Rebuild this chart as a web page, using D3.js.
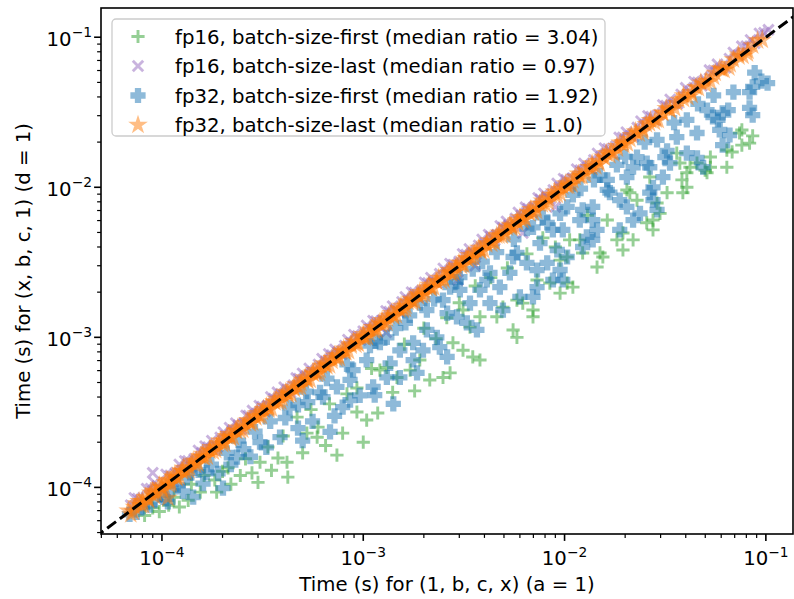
<!DOCTYPE html>
<html>
<head>
  <meta charset="UTF-8">
  <title>Layout timing</title>
  <style>
    body { margin: 0; background: #fff; }
    svg text { font-family: "DejaVu Sans", sans-serif; fill: #000; }
  </style>
</head>
<body>
  <div class="graph"></div>
  <script src="https://d3js.org/d3.v7.min.js"></script>
  <script>
    /// data: [time (s) for (1, b, c, x), time (s) for (x, b, c, 1)]

    var fp16First = [
      [8.2e-5,6.5e-5],[9.0e-5,7.3e-5],[9.7e-5,6.9e-5],[1.08e-4,7.6e-5],[1.15e-4,8.6e-5],[1.22e-4,7.4e-5],
      [1.35e-4,8.2e-5],[1.4e-4,1.05e-4],[1.55e-4,9.3e-5],[1.62e-4,1.2e-4],[1.83e-4,1.12e-4],[1.87e-4,9.3e-5],
      [2.0e-4,1.28e-4],[2.13e-4,1.35e-4],[2.2e-4,1.05e-4],[2.45e-4,1.2e-4],[2.6e-4,1.55e-4],[2.8e-4,1.25e-4],
      [3.0e-4,1.08e-4],[3.07e-4,1.47e-4],[3.36e-4,1.86e-4],[3.5e-4,1.3e-4],[3.77e-4,1.57e-4],[4.0e-4,2.2e-4],
      [4.18e-4,1.47e-4],[4.22e-4,1.17e-4],[4.69e-4,2.94e-4],[5.0e-4,1.7e-4],[5.25e-4,2.3e-4],[5.5e-4,3.3e-4],
      [5.9e-4,2.16e-4],[5.96e-4,2.52e-4],[6.5e-4,1.9e-4],[6.8e-4,3.6e-4],[7.4e-4,1.64e-4],[7.9e-4,2.3e-4],
      [8.3e-4,4.2e-4],[9.3e-4,3.18e-4],[9.3e-4,4.6e-4],[1.0e-3,2.0e-4],[1.04e-3,2.81e-4],[1.1e-3,6.2e-4],
      [1.18e-3,3.13e-4],[1.21e-3,6.05e-4],[1.31e-3,6.3e-4],[1.4e-3,4.3e-4],[1.47e-3,5.4e-4],[1.6e-3,9.0e-4],
      [1.71e-3,6.05e-4],[1.8e-3,4.4e-4],[1.91e-3,7.06e-4],[2.0e-3,1.15e-3],[2.14e-3,5.2e-4],[2.3e-3,9.8e-4],
      [2.49e-3,5.4e-4],[2.6e-3,1.35e-3],[2.7e-3,5.8e-4],[2.79e-3,9.2e-4],[3.0e-3,1.7e-3],[3.13e-3,8.2e-4],
      [3.13e-3,1.52e-3],[3.39e-3,1.17e-3],[3.5e-3,7.4e-4],[3.6e-3,2.2e-3],[3.8e-3,7.06e-4],[3.8e-3,1.37e-3],
      [4.3e-3,2.5e-3],[4.61e-3,1.37e-3],[4.94e-3,1.59e-3],[5.2e-3,2.9e-3],[5.55e-3,1.12e-3],[5.8e-3,1.77e-3],
      [5.8e-3,1.0e-3],[6.2e-3,1.69e-3],[6.5e-3,3.6e-3],[6.97e-3,1.52e-3],[6.97e-3,1.37e-3],[7.3e-3,2.41e-3],
      [7.8e-3,4.6e-3],[8.45e-3,2.3e-3],[9.0e-3,4.0e-3],[9.5e-3,3.27e-3],[9.5e-3,1.97e-3],[1.03e-2,3.43e-3],
      [1.03e-2,2.3e-3],[1.06e-2,4.46e-3],[1.1e-2,2.16e-3],[1.19e-2,4.46e-3],[1.23e-2,3.65e-3],[1.3e-2,6.5e-3],
      [1.45e-2,2.94e-3],[1.5e-2,3.65e-3],[1.55e-2,3.43e-3],[1.63e-2,6.05e-3],[1.82e-2,4.46e-3],[1.95e-2,4.96e-3],
      [1.95e-2,3.82e-3],[2.04e-2,9.6e-3],[2.11e-2,9.2e-3],[2.19e-2,4.46e-3],[2.29e-2,8.2e-3],[2.56e-2,5.8e-3],
      [2.65e-2,1.17e-2],[2.75e-2,6.05e-3],[2.75e-2,5.2e-3],[2.88e-2,7.85e-3],[2.98e-2,6.7e-3],[3.23e-2,9.2e-3],
      [3.61e-2,1.69e-2],[3.74e-2,1.45e-2],[3.83e-2,1.12e-2],[3.87e-2,9.2e-3],[4.05e-2,1.25e-2],[4.05e-2,1.0e-2],
      [4.2e-2,1.36e-2],[4.55e-2,1.45e-2],[4.99e-2,1.3e-2],[5.1e-2,1.25e-2],[5.3e-2,1.59e-2],[5.3e-2,1.36e-2],
      [6.4e-2,1.77e-2],[6.4e-2,1.36e-2],[6.8e-2,1.72e-2],[7.4e-2,2.3e-2],[7.6e-2,2.41e-2],[7.6e-2,1.91e-2],
      [8.3e-2,1.97e-2],[8.6e-2,2.2e-2]
    ];

    var fp16Last = [
      [7.0e-5,7.6e-5],[7.6e-5,8.4e-5],[8.1e-5,7.9e-5],[8.8e-5,9.8e-5],[9.0e-5,1.25e-4],[9.5e-5,1.02e-4],
      [1.02e-4,9.6e-5],[1.1e-4,1.2e-4],[1.17e-4,1.25e-4],[1.26e-4,1.3e-4],[1.35e-4,1.5e-4],[1.45e-4,1.55e-4],
      [1.58e-4,1.7e-4],[1.7e-4,1.85e-4],[1.82e-4,1.78e-4],[1.95e-4,2.15e-4],[2.08e-4,2.2e-4],[2.25e-4,2.4e-4],
      [2.4e-4,2.6e-4],[2.55e-4,2.65e-4],[2.7e-4,3.0e-4],[2.95e-4,3.1e-4],[3.15e-4,3.45e-4],[3.35e-4,3.5e-4],
      [3.6e-4,3.9e-4],[3.9e-4,4.2e-4],[4.2e-4,4.5e-4],[4.5e-4,4.8e-4],[4.8e-4,5.3e-4],[5.2e-4,5.5e-4],
      [5.6e-4,5.9e-4],[6.0e-4,6.6e-4],[6.5e-4,6.9e-4],[7.0e-4,7.6e-4],[7.5e-4,8.0e-4],[8.1e-4,8.8e-4],
      [8.7e-4,9.2e-4],[9.4e-4,1.02e-3],[1.0e-3,1.1e-3],[1.08e-3,1.14e-3],[1.16e-3,1.28e-3],[1.25e-3,1.3e-3],
      [1.3e-3,1.08e-3],[1.35e-3,1.48e-3],[1.45e-3,1.52e-3],[1.56e-3,1.72e-3],[1.68e-3,1.76e-3],[1.8e-3,1.98e-3],
      [1.95e-3,2.05e-3],[2.1e-3,2.3e-3],[2.25e-3,2.35e-3],[2.4e-3,2.65e-3],[2.6e-3,2.7e-3],[2.8e-3,3.05e-3],
      [2.95e-3,2.41e-3],[3.0e-3,3.2e-3],[3.25e-3,3.55e-3],[3.5e-3,3.65e-3],[3.6e-3,3.0e-3],[3.75e-3,4.1e-3],
      [4.0e-3,4.2e-3],[4.3e-3,4.7e-3],[4.6e-3,4.8e-3],[4.95e-3,5.4e-3],[5.3e-3,5.6e-3],[5.7e-3,6.2e-3],
      [6.2e-3,4.96e-3],[6.1e-3,6.5e-3],[6.6e-3,7.2e-3],[7.1e-3,7.4e-3],[7.6e-3,8.3e-3],[8.2e-3,8.6e-3],
      [8.8e-3,9.6e-3],[9.0e-3,7.4e-3],[9.5e-3,1.0e-2],[1.02e-2,1.12e-2],[1.1e-2,1.15e-2],[1.2e-2,1.3e-2],
      [1.3e-2,1.36e-2],[1.4e-2,1.52e-2],[1.52e-2,1.6e-2],[1.65e-2,1.8e-2],[1.8e-2,1.88e-2],[1.95e-2,2.15e-2],
      [2.12e-2,2.2e-2],[2.3e-2,2.5e-2],[2.5e-2,2.6e-2],[2.7e-2,2.95e-2],[2.95e-2,3.05e-2],[3.2e-2,3.5e-2],
      [3.5e-2,3.6e-2],[3.8e-2,4.15e-2],[4.2e-2,4.35e-2],[4.6e-2,5.0e-2],[5.0e-2,5.2e-2],[5.5e-2,6.0e-2],
      [6.0e-2,6.2e-2],[6.6e-2,7.2e-2],[7.3e-2,7.6e-2],[8.0e-2,8.7e-2],[8.8e-2,9.1e-2],[9.8e-2,1.07e-1],
      [1.03e-1,1.12e-1],
      [7.3e-5,8.5e-5],[8.4e-5,9.8e-5],[9.2e-5,1.07e-4],[1.05e-4,1.22e-4],[1.14e-4,1.1e-4],[1.22e-4,1.42e-4],
      [1.3e-4,1.5e-4],[1.4e-4,1.38e-4],[1.52e-4,1.76e-4],[1.64e-4,1.88e-4],[1.77e-4,2.05e-4],[1.88e-4,1.85e-4],
      [2.02e-4,2.33e-4],[2.17e-4,2.5e-4],[2.33e-4,2.68e-4],[2.48e-4,2.45e-4],[2.62e-4,3.02e-4],[2.82e-4,3.25e-4],
      [3.05e-4,3.5e-4],[3.25e-4,3.2e-4],[3.48e-4,4.0e-4],[3.75e-4,4.3e-4],[4.05e-4,4.65e-4],[4.35e-4,4.3e-4],
      [4.65e-4,5.35e-4],[5.0e-4,5.75e-4],[5.4e-4,6.2e-4],[5.8e-4,5.75e-4],[6.25e-4,7.2e-4],[6.75e-4,7.75e-4],
      [7.25e-4,8.3e-4],[7.8e-4,7.7e-4],[8.4e-4,9.65e-4],[9.0e-4,1.04e-3],[9.7e-4,9.6e-4],[1.04e-3,1.2e-3],
      [1.12e-3,1.29e-3],[1.2e-3,1.19e-3],[1.3e-3,1.5e-3],[1.4e-3,1.61e-3],[1.5e-3,1.48e-3],[1.62e-3,1.86e-3],
      [1.74e-3,2.0e-3],[1.87e-3,1.85e-3],[2.02e-3,2.32e-3],[2.17e-3,2.5e-3],[2.33e-3,2.3e-3],[2.5e-3,2.88e-3],
      [2.7e-3,3.1e-3],[2.9e-3,2.87e-3],[3.12e-3,3.59e-3],[3.37e-3,3.88e-3],[3.62e-3,3.58e-3],[3.9e-3,4.49e-3],
      [4.2e-3,4.83e-3],[4.5e-3,4.45e-3],[4.8e-3,5.52e-3],[5.15e-3,5.92e-3],[5.5e-3,5.45e-3],[5.9e-3,6.8e-3],
      [6.4e-3,7.35e-3],[6.9e-3,6.8e-3],[7.4e-3,8.5e-3],[7.9e-3,9.1e-3],[8.5e-3,8.4e-3],[9.2e-3,1.06e-2],
      [9.9e-3,1.14e-2],[1.06e-2,1.05e-2],[1.15e-2,1.32e-2],[1.25e-2,1.44e-2],[1.35e-2,1.34e-2],[1.46e-2,1.68e-2],
      [1.58e-2,1.82e-2],[1.72e-2,1.7e-2],[1.87e-2,2.15e-2],[2.03e-2,2.33e-2],[2.2e-2,2.18e-2],[2.4e-2,2.76e-2],
      [2.6e-2,2.99e-2],[2.82e-2,2.8e-2],[3.08e-2,3.54e-2],[3.35e-2,3.85e-2],[3.65e-2,3.62e-2],[4.0e-2,4.6e-2],
      [4.4e-2,5.06e-2],[4.8e-2,4.75e-2],[5.25e-2,6.04e-2],[5.75e-2,6.6e-2],[6.3e-2,6.25e-2],[6.9e-2,7.9e-2],
      [7.6e-2,8.7e-2],[8.4e-2,9.6e-2],[9.3e-2,1.06e-1]
    ];

    var fp32First = [
      [6.9e-5,6.6e-5],[7.5e-5,6.8e-5],[8.0e-5,7.4e-5],[8.7e-5,7.6e-5],[9.2e-5,8.3e-5],[9.8e-5,8.9e-5],
      [1.05e-4,8.4e-5],[1.07e-4,8.0e-5],[1.12e-4,9.8e-5],[1.2e-4,1.03e-4],[1.27e-4,9.4e-5],[1.33e-4,1.16e-4],
      [1.38e-4,1.25e-4],[1.43e-4,8.6e-5],[1.52e-4,1.3e-4],[1.6e-4,1.06e-4],[1.67e-4,1.26e-4],[1.76e-4,1.42e-4],
      [1.9e-4,1.24e-4],[2.01e-4,9.9e-5],[2.1e-4,1.7e-4],[2.2e-4,1.42e-4],[2.36e-4,1.59e-4],[2.4e-4,2.05e-4],
      [2.55e-4,1.8e-4],[2.75e-4,1.6e-4],[2.9e-4,2.35e-4],[3.07e-4,2.0e-4],[3.3e-4,1.85e-4],[3.45e-4,2.75e-4],
      [3.86e-4,2.16e-4],[4.1e-4,2.9e-4],[4.3e-4,3.4e-4],[4.74e-4,2.48e-4],[4.74e-4,3.54e-4],[5.0e-4,2.05e-4],
      [5.2e-4,4.35e-4],[5.3e-4,3.7e-4],[5.6e-4,2.75e-4],[6.1e-4,4.3e-4],[6.31e-4,4.0e-4],[6.6e-4,5.3e-4],
      [6.84e-4,2.34e-4],[7.2e-4,3.0e-4],[7.4e-4,4.67e-4],[7.9e-4,3.43e-4],[8.3e-4,6.6e-4],[8.6e-4,5.2e-4],
      [8.6e-4,3.82e-4],[8.9e-4,6.05e-4],[9.6e-4,4.1e-4],[1.04e-3,7.06e-4],[1.08e-3,8.8e-4],[1.12e-3,4.67e-4],
      [1.14e-3,4.12e-4],[1.15e-3,9.4e-4],[1.21e-3,9.2e-4],[1.31e-3,1.0e-3],[1.31e-3,5.4e-4],[1.36e-3,6.7e-4],
      [1.41e-3,3.6e-4],[1.45e-3,1.15e-3],[1.52e-3,8.2e-4],[1.52e-3,5.4e-4],[1.62e-3,1.25e-3],[1.7e-3,1.4e-3],
      [1.77e-3,9.2e-4],[1.77e-3,7.06e-4],[1.85e-3,5.8e-4],[1.91e-3,1.69e-3],[1.98e-3,8.2e-4],[2.07e-3,1.52e-3],
      [2.07e-3,1.12e-3],[2.25e-3,1.8e-3],[2.32e-3,1.0e-3],[2.4e-3,8.6e-4],[2.49e-3,1.77e-3],[2.61e-3,1.45e-3],
      [2.61e-3,7.4e-4],[2.7e-3,2.16e-3],[2.9e-3,2.35e-3],[2.92e-3,1.37e-3],[3.02e-3,2.07e-3],[3.02e-3,2.52e-3],
      [3.27e-3,1.25e-3],[3.39e-3,1.69e-3],[3.5e-3,2.85e-3],[3.67e-3,1.12e-3],[3.8e-3,2.07e-3],[3.9e-3,3.2e-3],
      [4.11e-3,2.41e-3],[4.26e-3,2.69e-3],[4.26e-3,1.69e-3],[4.6e-3,3.7e-3],[4.77e-3,2.16e-3],[4.94e-3,1.52e-3],
      [5.35e-3,2.69e-3],[5.55e-3,3.43e-3],[5.6e-3,4.5e-3],[5.8e-3,3.65e-3],[6.0e-3,1.86e-3],[6.5e-3,3.13e-3],
      [6.5e-3,5.3e-3],[6.97e-3,5.4e-3],[6.97e-3,1.86e-3],[7.3e-3,2.81e-3],[7.3e-3,2.16e-3],[7.55e-3,4.25e-3],
      [7.8e-3,6.3e-3],[8.2e-3,5.8e-3],[8.2e-3,3.13e-3],[8.75e-3,5.2e-3],[8.75e-3,2.41e-3],[9.2e-3,3.82e-3],
      [9.5e-3,6.7e-3],[9.5e-3,2.81e-3],[9.8e-3,5.2e-3],[9.8e-3,2.41e-3],[1.03e-2,7.4e-3],[1.03e-2,3.43e-3],
      [1.1e-2,8.9e-3],[1.19e-2,6.05e-3],[1.2e-2,9.8e-3],[1.23e-2,7.06e-3],[1.23e-2,4.0e-3],[1.29e-2,4.67e-3],
      [1.38e-2,7.4e-3],[1.38e-2,6.05e-3],[1.38e-2,4.46e-3],[1.4e-2,1.12e-2],[1.45e-2,5.2e-3],[1.5e-2,1.2e-2],
      [1.63e-2,1.12e-2],[1.63e-2,9.6e-3],[1.68e-2,9.2e-3],[1.82e-2,1.41e-2],[1.88e-2,8.2e-3],[1.88e-2,5.2e-3],
      [2.0e-2,1.6e-2],[2.04e-2,1.17e-2],[2.04e-2,7.4e-3],[2.19e-2,1.36e-2],[2.19e-2,6.05e-3],[2.29e-2,1.59e-2],
      [2.37e-2,6.7e-3],[2.5e-2,2.0e-2],[2.56e-2,1.45e-2],[2.65e-2,9.2e-3],[2.65e-2,1.36e-2],[2.75e-2,8.2e-3],
      [2.75e-2,1.0e-2],[2.88e-2,2.07e-2],[2.88e-2,7.06e-3],[3.08e-2,1.17e-2],[3.15e-2,1.59e-2],[3.23e-2,1.75e-2],
      [3.34e-2,1.45e-2],[3.5e-2,2.7e-2],[3.61e-2,2.16e-2],[4.05e-2,2.81e-2],[4.05e-2,1.69e-2],[4.55e-2,2.3e-2],
      [4.55e-2,1.57e-2],[4.6e-2,3.6e-2],[4.88e-2,1.36e-2],[5.1e-2,3.27e-2],[5.46e-2,2.94e-2],[5.5e-2,4.1e-2],
      [5.78e-2,2.81e-2],[5.9e-2,2.41e-2],[6.1e-2,3.13e-2],[6.1e-2,1.91e-2],[6.5e-2,3.27e-2],[6.6e-2,2.23e-2],
      [6.9e-2,4.3e-2],[8.3e-2,4.3e-2],[8.3e-2,3.38e-2],[8.6e-2,4.67e-2],[8.6e-2,3.03e-2],[8.8e-2,5.8e-2],
      [9.5e-2,5.1e-2],[1.02e-1,4.95e-2]
    ];

    var fp32Last = [
      [6.8e-5,7.0e-5],[7.2e-5,6.9e-5],[7.5e-5,7.8e-5],[7.9e-5,7.6e-5],[8.3e-5,8.6e-5],[8.6e-5,8.2e-5],
      [9.0e-5,9.5e-5],[9.4e-5,9.1e-5],[9.9e-5,1.0e-4],[1.04e-4,1.08e-4],[1.07e-4,8.5e-5],[1.09e-4,1.04e-4],
      [1.13e-4,1.18e-4],[1.19e-4,1.15e-4],[1.25e-4,1.29e-4],[1.32e-4,1.27e-4],[1.4e-4,1.46e-4],[1.47e-4,1.41e-4],
      [1.55e-4,1.61e-4],[1.63e-4,1.58e-4],[1.72e-4,1.78e-4],[1.8e-4,1.73e-4],[1.9e-4,1.97e-4],[2.0e-4,1.94e-4],
      [2.1e-4,2.19e-4],[2.2e-4,2.12e-4],[2.32e-4,2.4e-4],[2.45e-4,2.38e-4],[2.6e-4,2.68e-4],[2.75e-4,2.66e-4],
      [2.9e-4,3.0e-4],[3.05e-4,2.96e-4],[3.2e-4,3.32e-4],[3.4e-4,3.3e-4],[3.6e-4,3.74e-4],[3.8e-4,3.68e-4],
      [4.0e-4,4.15e-4],[4.25e-4,4.12e-4],[4.5e-4,4.64e-4],[4.75e-4,4.6e-4],[5.0e-4,5.2e-4],[5.3e-4,5.15e-4],
      [5.6e-4,5.82e-4],[5.9e-4,5.7e-4],[6.2e-4,6.45e-4],[6.6e-4,6.4e-4],[7.0e-4,7.25e-4],[7.4e-4,7.2e-4],
      [7.8e-4,8.1e-4],[8.2e-4,7.95e-4],[8.7e-4,9.0e-4],[9.2e-4,8.9e-4],[9.7e-4,1.01e-3],[1.02e-3,9.9e-4],
      [1.08e-3,1.12e-3],[1.14e-3,1.1e-3],[1.2e-3,1.25e-3],[1.27e-3,1.23e-3],[1.34e-3,1.39e-3],[1.42e-3,1.37e-3],
      [1.5e-3,1.56e-3],[1.58e-3,1.53e-3],[1.67e-3,1.73e-3],[1.76e-3,1.7e-3],[1.86e-3,1.93e-3],[1.96e-3,1.9e-3],
      [2.07e-3,2.14e-3],[2.18e-3,2.11e-3],[2.3e-3,2.38e-3],[2.45e-3,2.37e-3],[2.6e-3,2.69e-3],[2.75e-3,2.66e-3],
      [2.9e-3,3.0e-3],[3.08e-3,2.98e-3],[3.25e-3,3.37e-3],[3.45e-3,3.34e-3],[3.65e-3,3.78e-3],[3.85e-3,3.73e-3],
      [4.1e-3,4.24e-3],[4.35e-3,4.2e-3],[4.6e-3,4.76e-3],[4.9e-3,4.74e-3],[5.2e-3,5.38e-3],[5.5e-3,5.32e-3],
      [5.8e-3,6.0e-3],[6.2e-3,6.0e-3],[6.6e-3,6.83e-3],[7.0e-3,6.77e-3],[7.5e-3,7.76e-3],[8.0e-3,7.74e-3],
      [8.6e-3,8.9e-3],[9.2e-3,8.9e-3],[9.8e-3,1.01e-2],[1.05e-2,1.02e-2],[1.13e-2,1.17e-2],[1.22e-2,1.18e-2],
      [1.32e-2,1.36e-2],[1.43e-2,1.38e-2],[1.55e-2,1.6e-2],[1.68e-2,1.63e-2],[1.82e-2,1.88e-2],[1.97e-2,1.91e-2],
      [2.15e-2,2.22e-2],[2.35e-2,2.28e-2],[2.55e-2,2.63e-2],[2.8e-2,2.72e-2],[3.05e-2,3.15e-2],[3.35e-2,3.25e-2],
      [3.7e-2,3.82e-2],[4.1e-2,3.98e-2],[4.5e-2,4.65e-2],[5.0e-2,4.86e-2],[5.6e-2,5.78e-2],[6.2e-2,6.03e-2],
      [6.9e-2,7.1e-2],[7.7e-2,7.5e-2],[8.6e-2,8.8e-2],[9.6e-2,9.6e-2],
      [7.0e-5,6.6e-5],[7.7e-5,8.1e-5],[8.1e-5,7.6e-5],[8.8e-5,9.2e-5],[9.2e-5,8.7e-5],[9.7e-5,1.03e-4],
      [1.01e-4,9.5e-5],[1.06e-4,1.12e-4],[1.11e-4,1.06e-4],[1.16e-4,1.22e-4],[1.22e-4,1.17e-4],[1.28e-4,1.35e-4],
      [1.36e-4,1.3e-4],[1.43e-4,1.5e-4],[1.51e-4,1.44e-4],[1.59e-4,1.67e-4],[1.68e-4,1.6e-4],[1.76e-4,1.85e-4],
      [1.85e-4,1.77e-4],[1.95e-4,2.05e-4],[2.05e-4,1.96e-4],[2.15e-4,2.26e-4],[2.26e-4,2.16e-4],[2.38e-4,2.5e-4],
      [2.52e-4,2.42e-4],[2.67e-4,2.8e-4],[2.82e-4,2.7e-4],[2.97e-4,3.12e-4],[3.12e-4,2.98e-4],[3.3e-4,3.46e-4],
      [3.5e-4,3.35e-4],[3.7e-4,3.88e-4],[3.9e-4,3.73e-4],[4.12e-4,4.32e-4],[4.37e-4,4.18e-4],[4.62e-4,4.85e-4],
      [4.88e-4,4.67e-4],[5.15e-4,5.4e-4],[5.45e-4,5.2e-4],[5.75e-4,6.03e-4],[6.05e-4,5.8e-4],[6.4e-4,6.7e-4],
      [6.8e-4,6.5e-4],[7.2e-4,7.55e-4],[7.6e-4,7.28e-4],[8.0e-4,8.4e-4],[8.45e-4,8.1e-4],[8.95e-4,9.4e-4],
      [9.45e-4,9.05e-4],[1.0e-3,1.05e-3],[1.05e-3,1.0e-3],[1.11e-3,1.17e-3],[1.17e-3,1.12e-3],[1.24e-3,1.3e-3],
      [1.31e-3,1.25e-3],[1.38e-3,1.45e-3],[1.46e-3,1.4e-3],[1.54e-3,1.62e-3],[1.62e-3,1.55e-3],[1.72e-3,1.8e-3],
      [1.81e-3,1.73e-3],[1.91e-3,2.0e-3],[2.02e-3,1.93e-3],[2.12e-3,2.23e-3],[2.24e-3,2.14e-3],[2.37e-3,2.49e-3],
      [2.52e-3,2.41e-3],[2.67e-3,2.8e-3],[2.82e-3,2.7e-3],[2.99e-3,3.14e-3],[3.16e-3,3.03e-3],[3.35e-3,3.52e-3],
      [3.55e-3,3.4e-3],[3.75e-3,3.94e-3],[3.97e-3,3.8e-3],[4.22e-3,4.43e-3],[4.48e-3,4.29e-3],[4.75e-3,4.99e-3],
      [5.05e-3,4.84e-3],[5.35e-3,5.62e-3],[5.65e-3,5.41e-3],[6.0e-3,6.3e-3],[6.4e-3,6.13e-3],[6.8e-3,7.14e-3],
      [7.25e-3,6.95e-3],[7.75e-3,8.14e-3],[8.3e-3,7.95e-3],[8.9e-3,9.35e-3],[9.5e-3,9.1e-3],[1.01e-2,1.06e-2],
      [1.09e-2,1.04e-2],[1.17e-2,1.23e-2],[1.27e-2,1.22e-2],[1.37e-2,1.44e-2],[1.49e-2,1.43e-2],[1.61e-2,1.69e-2],
      [1.75e-2,1.68e-2],[1.89e-2,1.98e-2],[2.05e-2,1.96e-2],[2.25e-2,2.36e-2],[2.45e-2,2.35e-2],[2.67e-2,2.8e-2],
      [2.92e-2,2.8e-2],[3.2e-2,3.36e-2],[3.52e-2,3.37e-2],[3.9e-2,4.1e-2],[4.3e-2,4.12e-2],[4.75e-2,4.98e-2],
      [5.3e-2,5.08e-2],[5.9e-2,6.2e-2],[6.55e-2,6.28e-2],[7.3e-2,7.66e-2],[8.1e-2,7.78e-2],[9.1e-2,9.5e-2],
      [7.3e-5,7.4e-5],[8.0e-5,8.1e-5],[8.5e-5,8.4e-5],[9.3e-5,9.4e-5],[1.0e-4,9.9e-5],[1.1e-4,1.11e-4],
      [1.18e-4,1.17e-4],[1.27e-4,1.28e-4],[1.37e-4,1.36e-4],[1.48e-4,1.5e-4],[1.6e-4,1.59e-4],[1.73e-4,1.75e-4],
      [1.87e-4,1.86e-4],[2.03e-4,2.05e-4],[2.18e-4,2.17e-4],[2.35e-4,2.37e-4],[2.55e-4,2.54e-4],[2.72e-4,2.75e-4],
      [2.93e-4,2.92e-4],[3.15e-4,3.18e-4],[3.4e-4,3.38e-4],[3.65e-4,3.68e-4],[3.95e-4,3.93e-4],[4.2e-4,4.25e-4],
      [4.55e-4,4.52e-4],[4.9e-4,4.95e-4],[5.25e-4,5.22e-4],[5.65e-4,5.7e-4],[6.1e-4,6.07e-4],[6.5e-4,6.57e-4],
      [7.0e-4,6.96e-4],[7.5e-4,7.58e-4],[8.1e-4,8.05e-4],[8.7e-4,8.8e-4],[9.3e-4,9.25e-4],[1.0e-3,1.01e-3],
      [1.07e-3,1.06e-3],[1.15e-3,1.16e-3],[1.23e-3,1.22e-3],[1.32e-3,1.33e-3],[1.41e-3,1.4e-3],[1.52e-3,1.53e-3],
      [1.63e-3,1.62e-3],[1.75e-3,1.77e-3],[1.88e-3,1.87e-3],[2.02e-3,2.04e-3],[2.16e-3,2.15e-3],[2.32e-3,2.34e-3],
      [2.5e-3,2.48e-3],[2.68e-3,2.71e-3],[2.88e-3,2.86e-3],[3.09e-3,3.12e-3],[3.32e-3,3.3e-3],[3.56e-3,3.6e-3],
      [3.82e-3,3.8e-3],[4.1e-3,4.14e-3],[4.4e-3,4.37e-3],[4.72e-3,4.77e-3],[5.07e-3,5.04e-3],[5.44e-3,5.5e-3],
      [5.84e-3,5.8e-3],[6.27e-3,6.33e-3],[6.73e-3,6.69e-3],[7.22e-3,7.3e-3],[7.75e-3,7.7e-3],[8.32e-3,8.4e-3],
      [8.93e-3,8.88e-3],[9.6e-3,9.7e-3],[1.03e-2,1.02e-2],[1.1e-2,1.11e-2],[1.19e-2,1.18e-2],[1.27e-2,1.29e-2],
      [1.37e-2,1.36e-2],[1.47e-2,1.49e-2],[1.58e-2,1.57e-2],[1.7e-2,1.72e-2],[1.83e-2,1.81e-2],[1.96e-2,1.99e-2],
      [2.11e-2,2.09e-2],[2.27e-2,2.3e-2],[2.45e-2,2.43e-2],[2.64e-2,2.67e-2],[2.85e-2,2.82e-2],[3.08e-2,3.12e-2],
      [3.33e-2,3.3e-2],[3.6e-2,3.65e-2],[3.9e-2,3.87e-2],[4.25e-2,4.3e-2],[4.62e-2,4.58e-2],[5.05e-2,5.12e-2],
      [5.5e-2,5.45e-2],[6.05e-2,6.12e-2],[6.65e-2,6.6e-2],[7.35e-2,7.43e-2],[8.15e-2,8.1e-2]
    ];

    var seriesLabels = [
      "fp16, batch-size-first (median ratio = 3.04)",
      "fp16, batch-size-last (median ratio = 0.97)",
      "fp32, batch-size-first (median ratio = 1.92)",
      "fp32, batch-size-last (median ratio = 1.0)"
    ];
    var majorTicks = [1e-4, 1e-3, 1e-2, 1e-1];
    var tickExponents = ["\u22124", "\u22123", "\u22122", "\u22121"];
    var xLabel = "Time (s) for (1, b, c, x) (a = 1)";
    var yLabel = "Time (s) for (x, b, c, 1) (d = 1)";

    /// params

    var width = 794, height = 599;
    var plot = {left: 101, right: 793, top: 8, bottom: 534};
    var fontSize = 19.7, supSize = 13.8;

    var series = [
      {data: fp16First, color: "#2ca02c", marker: "plus"},
      {data: fp16Last,  color: "#9467bd", marker: "x"},
      {data: fp32First, color: "#1f77b4", marker: "pfill"},
      {data: fp32Last,  color: "#ff7f0e", marker: "star"}
    ];

    var markerPath = {
      plus: "M-6.6,0H6.6M0,-6.6V6.6",
      x: "M-5.2,-5.2L5.2,5.2M-5.2,5.2L5.2,-5.2",
      pfill: d3.symbol(d3.symbolCross, 100)(),
      star: d3.symbol(d3.symbolStar, 62)()
    };

    function styleMarker(sel, s) {
      var filled = (s.marker == "pfill" || s.marker == "star");
      sel.attr("d", markerPath[s.marker])
        .attr("fill", filled ? s.color : "none")
        .attr("stroke", s.color)
        .attr("stroke-width", filled ? 1.8 : 2.9)
        .attr("opacity", 0.5);
    }

    /// main

    var svg = d3.select(".graph").append("svg")
      .attr("width", width)
      .attr("height", height);
    svg.append("rect").attr("width", width).attr("height", height).attr("fill", "#fff");

    var x = d3.scaleLog().domain([4.98e-5, 0.1364]).range([plot.left, plot.right]);
    var y = d3.scaleLog().domain([4.89e-5, 0.1566]).range([plot.bottom, plot.top]);

    svg.append("clipPath").attr("id", "clip")
      .append("rect")
        .attr("x", plot.left).attr("y", plot.top)
        .attr("width", plot.right - plot.left)
        .attr("height", plot.bottom - plot.top);

    var marks = svg.append("g").attr("clip-path", "url(#clip)");

    series.forEach(function(s) {
      marks.append("g")
        .selectAll("path")
        .data(s.data)
        .enter().append("path")
          .attr("transform", function(d) { return "translate(" + x(d[0]) + "," + y(d[1]) + ")"; })
          .call(styleMarker, s);
    });

    // y = x reference line
    var diag = [4e-5, 0.2];
    marks.append("path")
      .attr("d", d3.line()(diag.map(function(v) { return [x(v), y(v)]; })))
      .attr("fill", "none")
      .attr("stroke", "#000")
      .attr("stroke-width", 3)
      .attr("stroke-dasharray", "11,4.8");

    // frame
    svg.append("rect")
      .attr("x", plot.left).attr("y", plot.top)
      .attr("width", plot.right - plot.left)
      .attr("height", plot.bottom - plot.top)
      .attr("fill", "none")
      .attr("stroke", "#000")
      .attr("stroke-width", 1.6);

    // ticks
    function isMajor(v) { return majorTicks.some(function(m) { return Math.abs(v / m - 1) < 1e-6; }); }

    var axes = svg.append("g").attr("stroke", "#000");
    x.ticks().forEach(function(v) {
      var major = isMajor(v);
      axes.append("line")
        .attr("x1", x(v)).attr("x2", x(v))
        .attr("y1", plot.bottom).attr("y2", plot.bottom + (major ? 6.9 : 3.9))
        .attr("stroke-width", major ? 1.6 : 1.2);
    });
    y.ticks().forEach(function(v) {
      var major = isMajor(v);
      axes.append("line")
        .attr("y1", y(v)).attr("y2", y(v))
        .attr("x1", plot.left).attr("x2", plot.left - (major ? 6.9 : 3.9))
        .attr("stroke-width", major ? 1.6 : 1.2);
    });

    function powerLabel(g, i) {
      g.append("tspan").text("10");
      g.append("tspan").attr("dy", -8.5).attr("font-size", supSize).text(tickExponents[i]);
    }

    majorTicks.forEach(function(v, i) {
      svg.append("text")
        .attr("x", x(v)).attr("y", plot.bottom + 31)
        .attr("text-anchor", "middle")
        .attr("font-size", fontSize)
        .call(powerLabel, i);
      svg.append("text")
        .attr("x", plot.left - 9).attr("y", y(v) + 8.5)
        .attr("text-anchor", "end")
        .attr("font-size", fontSize)
        .call(powerLabel, i);
    });

    // axis titles
    svg.append("text")
      .attr("x", (plot.left + plot.right) / 2).attr("y", 591)
      .attr("text-anchor", "middle")
      .attr("font-size", fontSize)
      .text(xLabel);
    svg.append("text")
      .attr("transform", "translate(30," + ((plot.top + plot.bottom) / 2) + ") rotate(-90)")
      .attr("text-anchor", "middle")
      .attr("font-size", fontSize)
      .text(yLabel);

    // legend
    var legend = svg.append("g").attr("class", "legend");
    legend.append("rect")
      .attr("x", 112).attr("y", 19)
      .attr("width", 493).attr("height", 117)
      .attr("rx", 4)
      .attr("fill", "#fff").attr("fill-opacity", 0.8)
      .attr("stroke", "#cccccc").attr("stroke-width", 1.3);

    series.forEach(function(s, i) {
      var cy = 36.5 + i * 29.5;
      legend.append("path")
        .attr("transform", "translate(138," + cy + ")")
        .call(styleMarker, s);
      legend.append("text")
        .attr("x", 175).attr("y", cy + 7)
        .attr("font-size", fontSize)
        .text(seriesLabels[i]);
    });
  </script>
</body>
</html>
